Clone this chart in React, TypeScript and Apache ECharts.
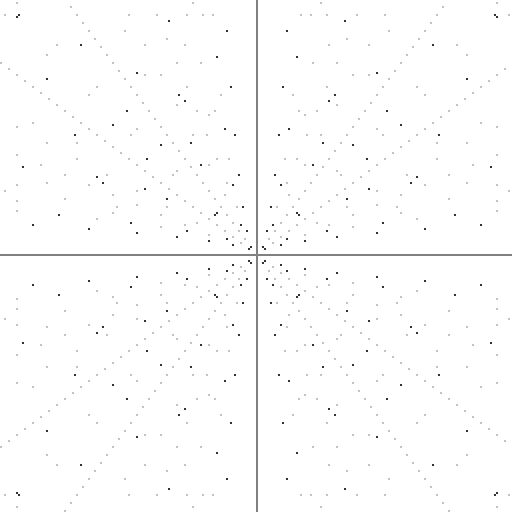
import React, { useEffect, useRef } from "react";
import * as echarts from "echarts";

// Primitive Pythagorean leg pairs (a, b) visible in the first octant (black dots)
const primitivePairs: [number, number][] = [
  [3, 4], [5, 12], [8, 15], [7, 24], [20, 21], [9, 40], [12, 35], [11, 60],
  [28, 45], [33, 56], [13, 84], [16, 63], [48, 55], [39, 80], [15, 112],
  [36, 77], [65, 72], [20, 99], [60, 91], [44, 117], [88, 105], [119, 120],
];

// Non-primitive leg pairs (grey dots) in the first octant
const multiplePairs: [number, number][] = [
  [6, 8], [9, 12], [12, 16], [15, 20], [18, 24], [21, 28], [24, 32], [27, 36],
  [30, 40], [33, 44], [36, 48], [39, 52], [42, 56], [45, 60], [48, 64], [51, 68],
  [54, 72], [57, 76], [60, 80], [63, 84], [66, 88], [69, 92], [72, 96], [75, 100],
  [78, 104], [81, 108], [84, 112], [87, 116], [90, 120], [93, 124], [96, 128],
  [10, 24], [15, 36], [20, 48], [25, 60], [30, 72], [35, 84], [40, 96], [45, 108], [50, 120],
  [16, 30], [24, 45], [32, 60], [40, 75], [48, 90], [56, 105], [64, 120],
  [14, 48], [21, 72], [28, 96], [35, 120],
  [40, 42], [60, 63], [80, 84], [100, 105], [120, 126],
  [18, 80], [27, 120], [24, 70], [36, 105], [22, 120], [56, 90], [66, 112], [32, 126],
];

const signs: [number, number][] = [[1, 1], [-1, 1], [1, -1], [-1, -1]];

function mirror(pairs: [number, number][]): [number, number][] {
  const out: [number, number][] = [];
  for (const [a, b] of pairs) {
    for (const [sx, sy] of signs) {
      out.push([sx * a, sy * b]);
      out.push([sx * b, sy * a]);
    }
  }
  return out;
}

export default function App() {
  const ref = useRef<HTMLDivElement>(null);
  useEffect(() => {
    if (!ref.current) return;
    const chart = echarts.init(ref.current, undefined, { renderer: "svg" });
    chart.setOption({
      animation: false,
      backgroundColor: "#ffffff",
      grid: { left: 0, right: 0, top: 0, bottom: 0, containLabel: false },
      xAxis: {
        type: "value",
        min: -128.5,
        max: 127.5,
        axisLine: { show: true, onZero: true, lineStyle: { color: "#808080", width: 2 } },
        axisTick: { show: false },
        axisLabel: { show: false },
        splitLine: { show: false },
      },
      yAxis: {
        type: "value",
        min: -128.5,
        max: 127.5,
        axisLine: { show: true, onZero: true, lineStyle: { color: "#808080", width: 2 } },
        axisTick: { show: false },
        axisLabel: { show: false },
        splitLine: { show: false },
      },
      series: [
        {
          type: "scatter",
          data: mirror(multiplePairs),
          symbol: "rect",
          symbolSize: 2,
          itemStyle: { color: "#b4b4b4" },
          silent: true,
        },
        {
          type: "scatter",
          data: mirror(primitivePairs),
          symbol: "rect",
          symbolSize: 2,
          itemStyle: { color: "#000000" },
          silent: true,
        },
      ],
    });
    return () => chart.dispose();
  }, []);
  return (
    <div
      ref={ref}
      style={{ position: "absolute", left: 0, top: 0, width: 512, height: 512 }}
    />
  );
}
